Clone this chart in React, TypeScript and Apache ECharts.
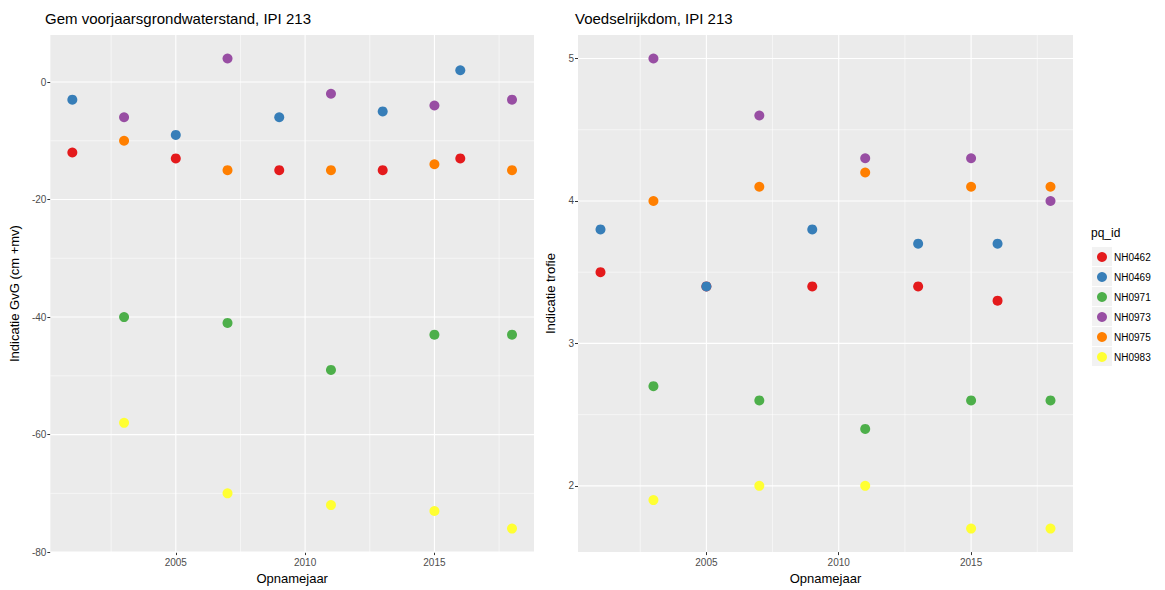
import React, { useEffect, useRef } from "react";
import * as echarts from "echarts";

const ids = ["NH0462", "NH0469", "NH0971", "NH0973", "NH0975", "NH0983"];
const colors = ["#E41A1C", "#377EB8", "#4DAF4A", "#984EA3", "#FF7F00", "#FFFF33"];
const yearsA = [2001, 2005, 2009, 2013, 2016];
const yearsB = [2003, 2007, 2011, 2015, 2018];
const idYears = [yearsA, yearsA, yearsB, yearsB, yearsB, yearsB];

// Gem voorjaarsgrondwaterstand (cm +mv)
const gvgNH0462 = [-12, -13, -15, -15, -13];
const gvgNH0469 = [-3, -9, -6, -5, 2];
const gvgNH0971 = [-40, -41, -49, -43, -43];
const gvgNH0973 = [-6, 4, -2, -4, -3];
const gvgNH0975 = [-10, -15, -15, -14, -15];
const gvgNH0983 = [-58, -70, -72, -73, -76];
const gvgValues = [gvgNH0462, gvgNH0469, gvgNH0971, gvgNH0973, gvgNH0975, gvgNH0983];

// Voedselrijkdom (indicatie trofie)
const trofNH0462 = [3.5, 3.4, 3.4, 3.4, 3.3];
const trofNH0469 = [3.8, 3.4, 3.8, 3.7, 3.7];
const trofNH0971 = [2.7, 2.6, 2.4, 2.6, 2.6];
const trofNH0973 = [5.0, 4.6, 4.3, 4.3, 4.0];
const trofNH0975 = [4.0, 4.1, 4.2, 4.1, 4.1];
const trofNH0983 = [1.9, 2.0, 2.0, 1.7, 1.7];
const trofValues = [trofNH0462, trofNH0469, trofNH0971, trofNH0973, trofNH0975, trofNH0983];

const xTicks = [2005, 2010, 2015];
const xMinor = [2002.5, 2007.5, 2012.5, 2017.5];
const xRange = [2000.15, 2018.85];
const gvgTicks = [-80, -60, -40, -20, 0];
const gvgMinor = [-70, -50, -30, -10];
const gvgRange = [-80, 8];
const trofTicks = [2, 3, 4, 5];
const trofMinor = [2.5, 3.5, 4.5];
const trofRange = [1.535, 5.165];

const titles = ["Gem voorjaarsgrondwaterstand, IPI 213", "Voedselrijkdom, IPI 213"];
const yNames = ["Indicatie GvG (cm +mv)", "Indicatie trofie"];
const xName = "Opnamejaar";
const legendTitle = "pq_id";

const FONT = "'Liberation Sans', Arial, Helvetica, sans-serif";

type PanelCfg = {
  p: number;
  offsetX: number;
  width: number;
  gridLeft: number;
  gridWidth: number;
  values: number[][];
  yTicks: number[];
  yMinor: number[];
  yRange: number[];
  yNameGap: number;
  withLegend: boolean;
};

const panelCfgs: PanelCfg[] = [
  { p: 0, offsetX: 0, width: 536, gridLeft: 46, gridWidth: 488, values: gvgValues, yTicks: gvgTicks, yMinor: gvgMinor, yRange: gvgRange, yNameGap: 23, withLegend: false },
  { p: 1, offsetX: 536, width: 629, gridLeft: 40, gridWidth: 497, values: trofValues, yTicks: trofTicks, yMinor: trofMinor, yRange: trofRange, yNameGap: 21, withLegend: true },
];

function Panel({ cfg }: { cfg: PanelCfg }) {
  const ref = useRef<HTMLDivElement>(null);
  useEffect(() => {
    if (!ref.current) return;
    const chart = echarts.init(ref.current, null, { renderer: "svg" });
    const ox = cfg.offsetX;

    const series: any[] = ids.map((id, i) => ({
      type: "scatter",
      name: id,
      symbolSize: 10,
      z: 3,
      itemStyle: { color: colors[i], opacity: 1 },
      data: idYears[i].map((yr, k) => [yr, cfg.values[i][k]]),
    }));

    const baseGraphic: any[] = [];
    if (cfg.withLegend) {
      ids.forEach((_, i) =>
        baseGraphic.push({
          type: "rect",
          shape: { x: 1092 - ox, y: 247 + i * 20, width: 20, height: 19 },
          style: { fill: "#F2F2F2" },
          z: 0,
        })
      );
      baseGraphic.push({
        type: "text",
        left: 1091 - ox,
        top: 227,
        style: { text: legendTitle, fontFamily: FONT, fontSize: 12, fill: "#000" },
      });
    }

    const option: any = {
      animation: false,
      backgroundColor: "#FFFFFF",
      title: {
        text: titles[cfg.p],
        left: cfg.gridLeft - 1,
        top: 11,
        padding: 0,
        textStyle: { fontFamily: FONT, fontSize: 15, fontWeight: "normal", color: "#000" },
      },
      grid: { left: cfg.gridLeft, top: 35, width: cfg.gridWidth, height: 524, show: true, backgroundColor: "#EBEBEB", borderWidth: 0 },
      xAxis: {
        type: "value",
        min: xRange[0],
        max: xRange[1],
        name: xName,
        nameLocation: "middle",
        nameGap: 19,
        nameTextStyle: { fontFamily: FONT, fontSize: 13, color: "#000" },
        axisLine: { show: false, onZero: false },
        axisTick: { show: true, customValues: xTicks, length: 3, lineStyle: { color: "#333", width: 1 } },
        axisLabel: { customValues: xTicks, formatter: (v: number) => String(v), fontFamily: FONT, fontSize: 10, color: "#4D4D4D", margin: 5 },
        splitLine: { show: false },
      },
      yAxis: {
        type: "value",
        min: cfg.yRange[0],
        max: cfg.yRange[1],
        name: yNames[cfg.p],
        nameLocation: "middle",
        nameGap: cfg.yNameGap,
        nameRotate: 90,
        nameTextStyle: { fontFamily: FONT, fontSize: 13, color: "#000" },
        axisLine: { show: false, onZero: false },
        axisTick: { show: true, customValues: cfg.yTicks, length: 3, lineStyle: { color: "#333", width: 1 } },
        axisLabel: { customValues: cfg.yTicks, formatter: (v: number) => String(v), fontFamily: FONT, fontSize: 10, color: "#4D4D4D", margin: 4 },
        splitLine: { show: false },
      },
      graphic: baseGraphic,
      series,
    };
    if (cfg.withLegend) {
      option.legend = {
        data: ids,
        orient: "vertical",
        left: 1097 - ox,
        top: 252,
        padding: 0,
        icon: "circle",
        itemWidth: 10,
        itemHeight: 10,
        itemGap: 10,
        selectedMode: false,
        textStyle: { fontFamily: FONT, fontSize: 10, color: "#000", padding: [0, 0, 0, 2] },
      };
    }
    chart.setOption(option);

    // grid lines placed through the axes' own scales
    const lines: any[] = [];
    const p0 = chart.convertToPixel({ gridIndex: 0 }, [xRange[0], cfg.yRange[0]]) as number[];
    const p1 = chart.convertToPixel({ gridIndex: 0 }, [xRange[1], cfg.yRange[1]]) as number[];
    const addV = (v: number, w: number) => {
      const p = chart.convertToPixel({ gridIndex: 0 }, [v, cfg.yRange[0]]) as number[];
      lines.push({ type: "line", z: 1, silent: true, shape: { x1: p[0], y1: p0[1], x2: p[0], y2: p1[1] }, style: { stroke: "#FFFFFF", lineWidth: w } });
    };
    const addH = (v: number, w: number) => {
      const p = chart.convertToPixel({ gridIndex: 0 }, [xRange[0], v]) as number[];
      lines.push({ type: "line", z: 1, silent: true, shape: { x1: p0[0], y1: p[1], x2: p1[0], y2: p[1] }, style: { stroke: "#FFFFFF", lineWidth: w } });
    };
    xMinor.forEach((v) => addV(v, 0.55));
    cfg.yMinor.forEach((v) => addH(v, 0.55));
    xTicks.forEach((v) => addV(v, 1.1));
    cfg.yTicks.forEach((v) => addH(v, 1.1));
    chart.setOption({ graphic: [...baseGraphic, ...lines] }, { replaceMerge: ["graphic"] });

    return () => chart.dispose();
  }, []);
  return <div ref={ref} style={{ position: "absolute", left: cfg.offsetX, top: 0, width: cfg.width, height: 590 }} />;
}

export default function App() {
  return (
    <div style={{ position: "fixed", left: 0, top: 0, width: 1165, height: 590, background: "#FFFFFF" }}>
      {panelCfgs.map((c) => (
        <Panel key={c.p} cfg={c} />
      ))}
    </div>
  );
}
